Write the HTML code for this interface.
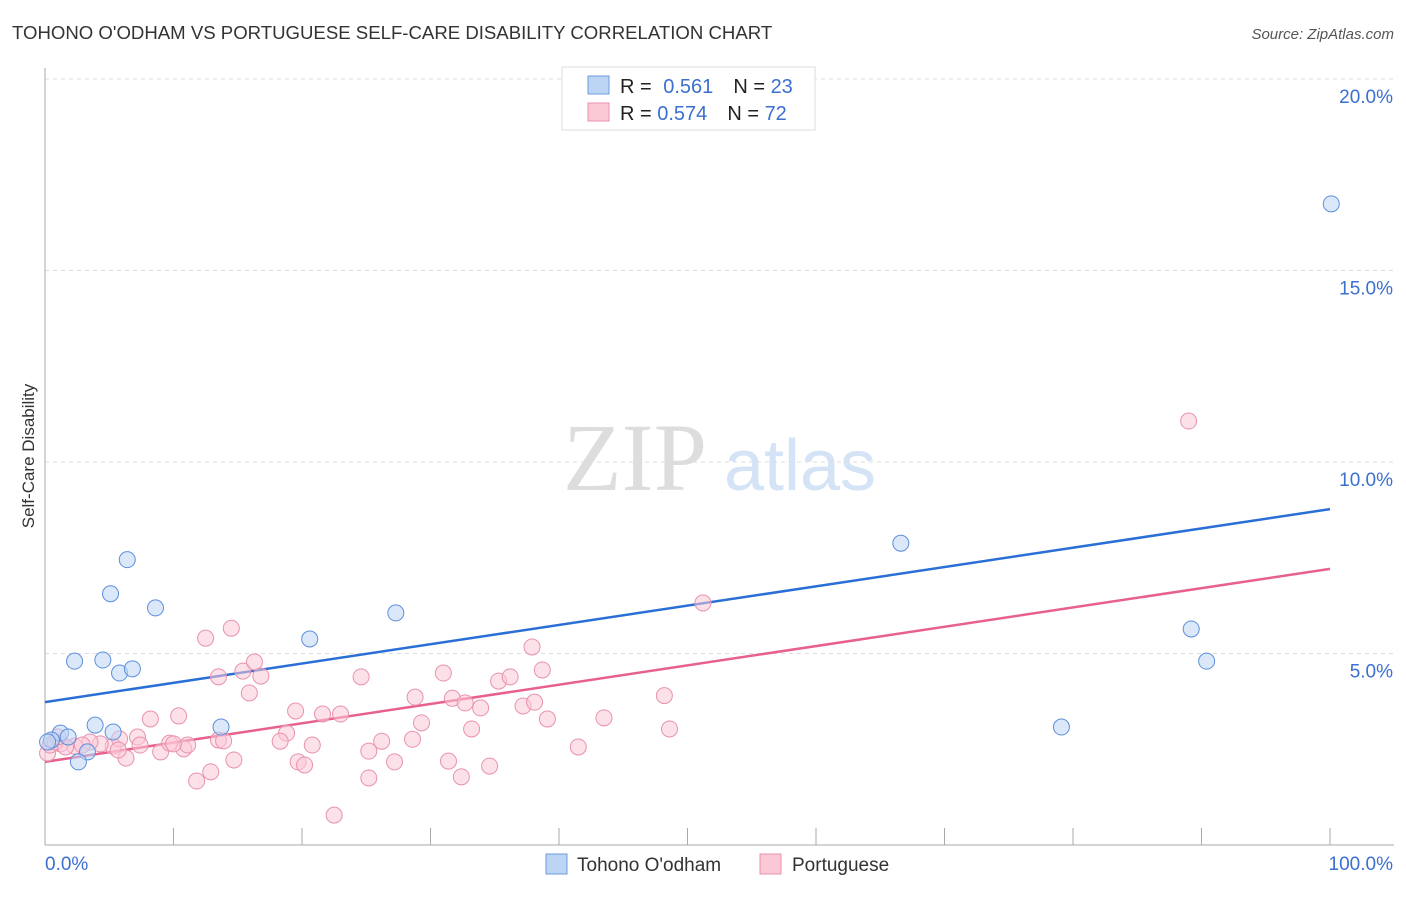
<!DOCTYPE html>
<html><head><meta charset="utf-8"><style>
body{margin:0;background:#fff;font-family:"Liberation Sans",sans-serif;}
svg text{font-family:"Liberation Sans",sans-serif;}
</style></head><body>
<svg id="chart" width="1406" height="892" xmlns="http://www.w3.org/2000/svg">
<text x="12" y="39" font-size="18.6" fill="#333">TOHONO O'ODHAM VS PORTUGUESE SELF-CARE DISABILITY CORRELATION CHART</text>
<text x="1394" y="39" font-size="15" fill="#555" font-style="italic" text-anchor="end">Source: ZipAtlas.com</text>
<text x="34" y="456" font-size="17" fill="#333" text-anchor="middle" transform="rotate(-90 34 456)">Self-Care Disability</text>
<g><text x="635" y="490" font-size="96" fill="#ddd" style="font-family:'Liberation Serif',serif" text-anchor="middle">ZIP</text><text x="800" y="490" font-size="72" fill="#d4e3f5" text-anchor="middle">atlas</text></g>
<g id="grid"></g><g id="axes"></g><g id="lines"></g><g id="pts"></g>
<g>
<rect x="562" y="67" width="253" height="63" fill="#fff" stroke="#ddd"/>
<rect x="588" y="76" width="21" height="18" fill="#bcd5f5" stroke="#6a9be0"/>
<rect x="588" y="103" width="21" height="18" fill="#fbc8d6" stroke="#ec8fab"/>
<text x="620" y="93" font-size="20" fill="#222">R = <tspan fill="#3b6fd0" dx="6">0.561</tspan><tspan dx="20" fill="#222">N = </tspan><tspan fill="#3b6fd0">23</tspan></text>
<text x="620" y="120" font-size="20" fill="#222">R = <tspan fill="#3b6fd0">0.574</tspan><tspan dx="20" fill="#222">N = </tspan><tspan fill="#3b6fd0">72</tspan></text>
</g>
<g>
<rect x="546" y="854" width="21" height="20" fill="#bcd5f5" stroke="#6a9be0"/>
<text x="577" y="871" font-size="19" fill="#333">Tohono O'odham</text>
<rect x="760" y="854" width="21" height="20" fill="#fbc8d6" stroke="#ec8fab"/>
<text x="792" y="871" font-size="19" fill="#333">Portuguese</text>
</g>
</svg>
<script>
const yTicks=[5,10,15,20];
const yTickLabels=["5.0%","10.0%","15.0%","20.0%"];
const xTickLabels=["0.0%","100.0%"];
const blueX=[6.4,5.1,8.6,20.6,27.3,2.3,4.5,5.8,6.8,3.9,13.7,5.3,1.2,0.5,1.8,3.3,2.6,66.6,100.1,89.2,90.4,79.1,0.2];
const blueY=[7.45,6.56,6.19,5.38,6.06,4.8,4.83,4.49,4.6,3.13,3.08,2.95,2.92,2.74,2.82,2.43,2.17,7.88,16.74,5.64,4.8,3.08,2.69];
const pinkX=[12.5,14.5,15.4,16.3,16.8,15.9,13.5,13.5,13.9,10.4,8.2,10.8,9,11.8,12.9,14.7,24.6,31,28.8,31.7,32.7,33.9,26.2,28.6,29.3,33.2,35.3,36.2,37.9,38.7,37.2,38.1,39.1,43.5,41.5,48.2,48.6,51.2,89,19.5,21.6,23,18.8,18.3,20.8,19.7,20.2,25.2,27.2,25.2,31.4,32.4,34.6,22.5,6.3,5.3,7.2,9.7,5.8,4.3,3.5,2.3,1.2,0.2,0.4,0.8,1.6,2.9,7.4,11.1,10,5.7,1];
const pinkY=[5.4,5.66,4.54,4.78,4.41,3.97,4.39,2.74,2.72,3.37,3.29,2.51,2.43,1.67,1.91,2.22,4.39,4.49,3.86,3.83,3.71,3.58,2.71,2.76,3.19,3.03,4.28,4.39,5.17,4.57,3.63,3.73,3.29,3.32,2.56,3.9,3.03,6.32,11.07,3.5,3.42,3.42,2.92,2.71,2.61,2.17,2.09,2.45,2.17,1.75,2.19,1.78,2.06,0.78,2.27,2.58,2.82,2.66,2.77,2.64,2.69,2.58,2.64,2.4,2.61,2.69,2.56,2.61,2.61,2.61,2.64,2.48,2.82];
const blueLine=[3.73,8.77];
const pinkLine=[2.17,7.21];
const NS="http://www.w3.org/2000/svg";
const sx=v=>45+v*12.85, sy=v=>845-v*38.3;
function mk(tag,attrs,parent){const e=document.createElementNS(NS,tag);for(const k in attrs)e.setAttribute(k,attrs[k]);document.getElementById(parent).appendChild(e);return e;}
yTicks.forEach((t,i)=>{
 const g=mk('line',{x1:45,x2:1394,y1:sy(t),y2:sy(t),stroke:'#ddd','stroke-dasharray':'4,4'},'grid');
 
 
 const l=mk('text',{x:1393,y:sy(t)+24,'font-size':19,fill:'#3b6fd0','text-anchor':'end'},'grid');l.textContent=yTickLabels[i];
 
 
});
const topGrid=mk('line',{x1:45,x2:1394,y1:79,y2:79,stroke:'#ddd','stroke-dasharray':'4,4'},'grid');


const ya=mk('line',{x1:45,x2:45,y1:68,y2:845,stroke:'#aaa'},'axes');


const xa=mk('line',{x1:45,x2:1394,y1:845,y2:845,stroke:'#aaa'},'axes');


for(let i=1;i<=10;i++){const t=mk('line',{x1:sx(i*10),x2:sx(i*10),y1:828,y2:845,stroke:'#aaa'},'axes');
 
 }
[[0,'start',45],[100,'end',1393]].forEach((d,i)=>{const t=mk('text',{x:d[2],y:870,'font-size':19,fill:'#3b6fd0','text-anchor':d[1]},'axes');t.textContent=xTickLabels[i];
 
 });
function pts(xs,ys,fill,stroke,name){xs.forEach((x,i)=>{const c=mk('circle',{cx:sx(x),cy:sy(ys[i]),r:8,fill:fill,'fill-opacity':0.55,stroke:stroke,'stroke-width':1},'pts');
 
 });}
pts(pinkX,pinkY,'#fbc8d6','#e892ad','portuguese-point');
pts(blueX,blueY,'#bcd5f5','#5d8fdc','tohono-point');
const bl=mk('line',{x1:sx(0),y1:sy(blueLine[0]),x2:sx(100),y2:sy(blueLine[1]),stroke:'#2a6fd6','stroke-width':2.5},'lines');


const pl=mk('line',{x1:sx(0),y1:sy(pinkLine[0]),x2:sx(100),y2:sy(pinkLine[1]),stroke:'#e8608c','stroke-width':2.5},'lines');


</script>
</body></html>
